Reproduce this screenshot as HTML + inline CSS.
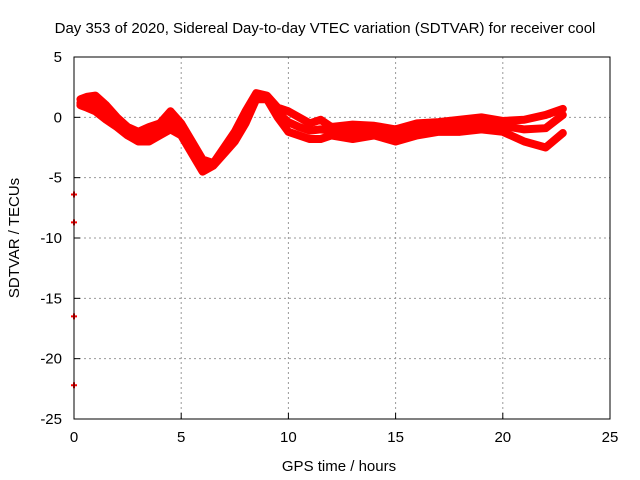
<!DOCTYPE html>
<html><head><meta charset="utf-8"><style>
body{margin:0;background:#fff}
svg{display:block;font-family:"Liberation Sans",sans-serif}
</style></head><body>
<svg id="c" width="640" height="480">
<text x="325" y="33" font-size="15" text-anchor="middle">Day 353 of 2020, Sidereal Day-to-day VTEC variation (SDTVAR) for receiver cool</text>
<text x="339" y="471" font-size="15" text-anchor="middle">GPS time / hours</text>
<text transform="translate(19,238) rotate(-90)" font-size="15" text-anchor="middle">SDTVAR / TECUs</text>
<g id="grid"></g><g id="ticks"></g><g id="marks"></g>
<rect x="74" y="57" width="536" height="362" fill="none" stroke="#000"/>
</svg>
<script>
const xTicks=[0,5,10,15,20,25];
const yTicks=[5,0,-5,-10,-15,-20,-25];
const hours=[0.3,0.6,1,1.5,2,2.5,3,3.5,4,4.5,5,5.5,6,6.5,7,7.5,8,8.5,9,9.5,10,10.5,11,11.5,12,13,14,15,16,17,18,19,20,21,22,22.8];
const upper=[1.5,1.7,1.8,1.0,0.0,-0.8,-1.2,-0.8,-0.5,0.5,-0.5,-2.0,-3.5,-3.8,-2.5,-1.2,0.5,2.0,1.8,0.8,0.5,0.0,-0.5,-0.2,-0.8,-0.6,-0.7,-1.0,-0.5,-0.4,-0.2,0.0,-0.3,-0.2,0.2,0.7];
const middle=[1.2,1.3,1.2,0.4,-0.4,-1.1,-1.6,-1.4,-1.0,-0.2,-1.0,-2.5,-4.0,-3.9,-2.8,-1.6,0.0,1.8,1.7,0.4,-0.4,-0.8,-1.1,-1.0,-1.1,-1.2,-1.1,-1.5,-1.0,-0.8,-0.7,-0.5,-0.7,-1.0,-0.9,0.2];
const lower=[1.0,0.8,0.5,-0.2,-0.8,-1.5,-2.0,-2.0,-1.5,-1.0,-1.5,-3.0,-4.5,-4.0,-3.0,-2.0,-0.5,1.5,1.5,0.0,-1.2,-1.5,-1.8,-1.8,-1.5,-1.8,-1.5,-2.0,-1.5,-1.2,-1.2,-1.0,-1.2,-2.0,-2.5,-1.3];
const outlierHours=[0,0,0,0];
const outlierVals=[-6.4,-8.7,-16.5,-22.2];
const X=h=>74+h*(536/25), Y=v=>57+(5-v)*(362/30);
const NS="http://www.w3.org/2000/svg";
function mk(t,a,p){const e=document.createElementNS(NS,t);for(const k in a)e.setAttribute(k,a[k]);document.getElementById(p).appendChild(e);return e;}
xTicks.forEach(t=>{
 if(t>0&&t<25){const g=mk('line',{x1:X(t),x2:X(t),y1:57,y2:419,stroke:'#999','stroke-dasharray':'2,3'},'grid');
 
 }
 const l=mk('text',{x:X(t),y:442,'font-size':15,'text-anchor':'middle'},'ticks');l.textContent=t;
 
 
 mk('line',{x1:X(t),x2:X(t),y1:419,y2:413,stroke:'#000'},'ticks');
});
yTicks.forEach(t=>{
 if(t<5&&t>-25){const g=mk('line',{x1:74,x2:610,y1:Y(t),y2:Y(t),stroke:'#999','stroke-dasharray':'2,3'},'grid');
 
 }
 const l=mk('text',{x:62,y:Y(t)+5,'font-size':15,'text-anchor':'end'},'ticks');l.textContent=t;
 
 
 mk('line',{x1:74,x2:80,y1:Y(t),y2:Y(t),stroke:'#000'},'ticks');
});
[[upper,'series-upper'],[middle,'series-middle'],[lower,'series-lower']].forEach(([s,n])=>{
 const p=mk('polyline',{points:hours.map((h,i)=>X(h)+','+Y(s[i])).join(' '),fill:'none',stroke:'#f00','stroke-width':8,'stroke-linejoin':'round','stroke-linecap':'round'},'marks');
 
 
});
outlierVals.forEach((v,i)=>{
 const g=mk('path',{d:`M${X(outlierHours[i])-3},${Y(v)}h6M${X(outlierHours[i])},${Y(v)-3}v6`,stroke:'#f00','stroke-width':2},'marks');
 
 
});
</script>
</body></html>
